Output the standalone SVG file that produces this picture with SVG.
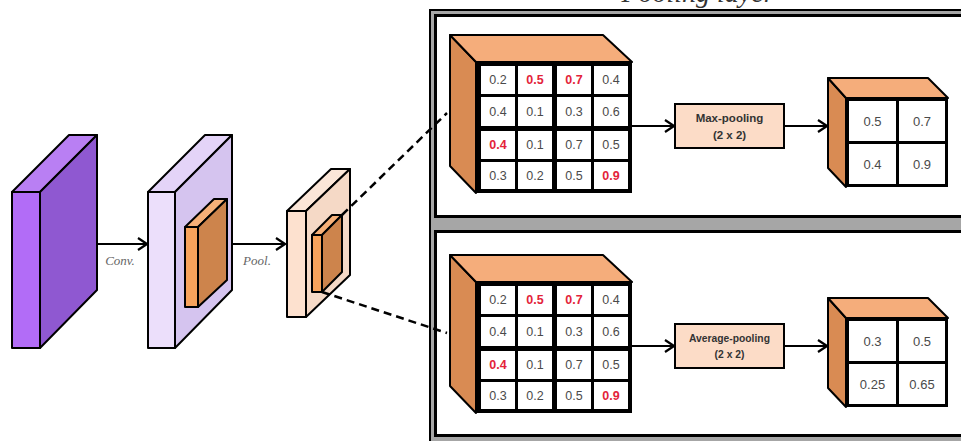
<svg xmlns="http://www.w3.org/2000/svg" width="961" height="441" viewBox="0 0 961 441">
<defs>
<style>
.s{stroke:#000;stroke-width:2;stroke-linejoin:round}
.grid{fill:#000}
.cell{fill:#fff}
.n{font-family:"Liberation Sans",Arial,sans-serif;font-size:12.5px;fill:#4a4a4a;text-anchor:middle}
.r{fill:#e3233a;font-weight:bold}
.o{font-size:13px}
.lbl{font-family:"Liberation Sans",Arial,sans-serif;font-weight:bold;fill:#333;text-anchor:middle}
.it{font-family:"Liberation Serif","Times New Roman",serif;font-style:italic;fill:#666;font-size:13px;text-anchor:middle}
.side{fill:#d98b53}
.topf{fill:#f5ad7b}
.conn{stroke:#000;stroke-width:2;fill:none}
.dash{stroke:#000;stroke-width:2.5;fill:none;stroke-dasharray:8 5}
</style>
<marker id="ah" markerWidth="11" markerHeight="14" refX="10" refY="7" orient="auto" markerUnits="userSpaceOnUse">
<path d="M1,1 L10,7 L1,13" fill="none" stroke="#000" stroke-width="2.2"/>
</marker>
</defs>

<text x="698" y="2" font-family="Liberation Serif,serif" font-style="italic" font-size="28" fill="#333" text-anchor="middle">Pooling layer</text>

<g id="frame">
<rect x="430" y="10" width="540" height="440" fill="#a6a6a6" stroke="#000" stroke-width="2"/>
<rect x="435.5" y="15.5" width="530" height="201" fill="#fff" stroke="#000" stroke-width="3"/>
<rect x="435.5" y="231.5" width="530" height="204" fill="#fff" stroke="#000" stroke-width="3"/>
</g>

<g id="input">
<polygon class="s" points="12,192 40,192 40,348 12,348" fill="#b26cf7"/>
<polygon class="s" points="12,192 40,192 97,135 69,135" fill="#b97ff3"/>
<polygon class="s" points="40,192 97,135 97,290 40,348" fill="#8f58d1"/>
</g>

<g id="conv">
<polygon class="s" points="148,192 175,192 175,348 148,348" fill="#ecdffb"/>
<polygon class="s" points="148,192 175,192 232,135 205,135" fill="#e4d4f8"/>
<polygon class="s" points="175,192 232,135 232,290 175,348" fill="#d5c4ef"/>
<polygon class="s" points="185,227 198,227 198,307 185,307" fill="#f7a35c"/>
<polygon class="s" points="185,227 198,227 227,199 214,199" fill="#f6b078"/>
<polygon class="s" points="198,227 227,199 227,280 198,307" fill="#cd844c"/>
</g>

<g id="pool">
<polygon class="s" points="287,211 306,211 306,317 287,317" fill="#fde1cf"/>
<polygon class="s" points="287,211 306,211 350,169 331,169" fill="#fbe6d8"/>
<polygon class="s" points="306,211 350,169 350,275 306,317" fill="#f5d9c6"/>
<polygon class="s" points="312,235 322,235 322,292 312,292" fill="#f7a35c"/>
<polygon class="s" points="312,235 322,235 342,215 332,215" fill="#f6b078"/>
<polygon class="s" points="322,235 342,215 342,272 322,292" fill="#cd844c"/>
</g>

<g id="connectors">
<line class="conn" x1="97" y1="244" x2="147" y2="244" marker-end="url(#ah)"/>
<line class="conn" x1="232" y1="244" x2="285" y2="244" marker-end="url(#ah)"/>
<line class="dash" x1="342" y1="215" x2="447" y2="113"/>
<line class="dash" x1="322" y1="292" x2="447" y2="333"/>
<line class="conn" x1="632" y1="126" x2="674" y2="126" marker-end="url(#ah)"/>
<line class="conn" x1="784" y1="126" x2="827" y2="126" marker-end="url(#ah)"/>
<line class="conn" x1="632" y1="346" x2="674" y2="346" marker-end="url(#ah)"/>
<line class="conn" x1="784" y1="346" x2="827" y2="346" marker-end="url(#ah)"/>
</g>
<text class="it" x="120" y="265">Conv.</text>
<text class="it" x="257" y="265">Pool.</text>

<g id="max-input">
<polygon class="s side" points="450,35 476,62 476,193 450,166"/>
<polygon class="s topf" points="450,35 603,35 632,62 476,62"/>
<rect class="grid" x="476" y="62" width="156" height="131"/>
<rect class="cell" x="481" y="66" width="34" height="28"/><rect class="cell" x="518" y="66" width="34" height="28"/><rect class="cell" x="557" y="66" width="34" height="28"/><rect class="cell" x="594" y="66" width="34" height="28"/>
<rect class="cell" x="481" y="97" width="34" height="29"/><rect class="cell" x="518" y="97" width="34" height="29"/><rect class="cell" x="557" y="97" width="34" height="29"/><rect class="cell" x="594" y="97" width="34" height="29"/>
<rect class="cell" x="481" y="131" width="34" height="28"/><rect class="cell" x="518" y="131" width="34" height="28"/><rect class="cell" x="557" y="131" width="34" height="28"/><rect class="cell" x="594" y="131" width="34" height="28"/>
<rect class="cell" x="481" y="162" width="34" height="27"/><rect class="cell" x="518" y="162" width="34" height="27"/><rect class="cell" x="557" y="162" width="34" height="27"/><rect class="cell" x="594" y="162" width="34" height="27"/>
<text class="n" x="498" y="84">0.2</text><text class="n r" x="535" y="84">0.5</text><text class="n r" x="574" y="84">0.7</text><text class="n" x="611" y="84">0.4</text>
<text class="n" x="498" y="116">0.4</text><text class="n" x="535" y="116">0.1</text><text class="n" x="574" y="116">0.3</text><text class="n" x="611" y="116">0.6</text>
<text class="n r" x="498" y="149">0.4</text><text class="n" x="535" y="149">0.1</text><text class="n" x="574" y="149">0.7</text><text class="n" x="611" y="149">0.5</text>
<text class="n" x="498" y="180">0.3</text><text class="n" x="535" y="180">0.2</text><text class="n" x="574" y="180">0.5</text><text class="n r" x="611" y="180">0.9</text>
</g>

<g id="max-pooling">
<rect x="675" y="104" width="109" height="44" fill="#fcdcc7" stroke="#000" stroke-width="2"/>
<text class="lbl" x="729.5" y="122" font-size="11.5">Max-pooling</text>
<text class="lbl" x="729.5" y="139" font-size="11.5">(2 x 2)</text>
</g>

<g id="max-output">
<polygon class="s side" points="828,78 846,98 846,187 828,168"/>
<polygon class="s topf" points="828,78 928,78 948,98 846,98"/>
<rect class="grid" x="846" y="98" width="102" height="89"/>
<rect class="cell" x="849" y="101" width="47" height="40"/><rect class="cell" x="899" y="101" width="46" height="40"/>
<rect class="cell" x="849" y="144" width="47" height="40"/><rect class="cell" x="899" y="144" width="46" height="40"/>
<text class="n o" x="872.5" y="126">0.5</text><text class="n o" x="922" y="126">0.7</text>
<text class="n o" x="872.5" y="169">0.4</text><text class="n o" x="922" y="169">0.9</text>
</g>

<g id="avg-input">
<polygon class="s side" points="450,255 476,282 476,413 450,386"/>
<polygon class="s topf" points="450,255 603,255 632,282 476,282"/>
<rect class="grid" x="476" y="282" width="156" height="131"/>
<rect class="cell" x="481" y="286" width="34" height="28"/><rect class="cell" x="518" y="286" width="34" height="28"/><rect class="cell" x="557" y="286" width="34" height="28"/><rect class="cell" x="594" y="286" width="34" height="28"/>
<rect class="cell" x="481" y="317" width="34" height="29"/><rect class="cell" x="518" y="317" width="34" height="29"/><rect class="cell" x="557" y="317" width="34" height="29"/><rect class="cell" x="594" y="317" width="34" height="29"/>
<rect class="cell" x="481" y="351" width="34" height="28"/><rect class="cell" x="518" y="351" width="34" height="28"/><rect class="cell" x="557" y="351" width="34" height="28"/><rect class="cell" x="594" y="351" width="34" height="28"/>
<rect class="cell" x="481" y="382" width="34" height="27"/><rect class="cell" x="518" y="382" width="34" height="27"/><rect class="cell" x="557" y="382" width="34" height="27"/><rect class="cell" x="594" y="382" width="34" height="27"/>
<text class="n" x="498" y="304">0.2</text><text class="n r" x="535" y="304">0.5</text><text class="n r" x="574" y="304">0.7</text><text class="n" x="611" y="304">0.4</text>
<text class="n" x="498" y="336">0.4</text><text class="n" x="535" y="336">0.1</text><text class="n" x="574" y="336">0.3</text><text class="n" x="611" y="336">0.6</text>
<text class="n r" x="498" y="369">0.4</text><text class="n" x="535" y="369">0.1</text><text class="n" x="574" y="369">0.7</text><text class="n" x="611" y="369">0.5</text>
<text class="n" x="498" y="400">0.3</text><text class="n" x="535" y="400">0.2</text><text class="n" x="574" y="400">0.5</text><text class="n r" x="611" y="400">0.9</text>
</g>

<g id="average-pooling">
<rect x="675" y="324" width="109" height="44" fill="#fcdcc7" stroke="#000" stroke-width="2"/>
<text class="lbl" x="729.5" y="342" font-size="10.3">Average-pooling</text>
<text class="lbl" x="729.5" y="358" font-size="10.3">(2 x 2)</text>
</g>

<g id="avg-output">
<polygon class="s side" points="828,298 846,318 846,407 828,388"/>
<polygon class="s topf" points="828,298 928,298 948,318 846,318"/>
<rect class="grid" x="846" y="318" width="102" height="89"/>
<rect class="cell" x="849" y="321" width="47" height="40"/><rect class="cell" x="899" y="321" width="46" height="40"/>
<rect class="cell" x="849" y="364" width="47" height="40"/><rect class="cell" x="899" y="364" width="46" height="40"/>
<text class="n o" x="872.5" y="346">0.3</text><text class="n o" x="922" y="346">0.5</text>
<text class="n o" x="872.5" y="389">0.25</text><text class="n o" x="922" y="389">0.65</text>
</g>
</svg>
